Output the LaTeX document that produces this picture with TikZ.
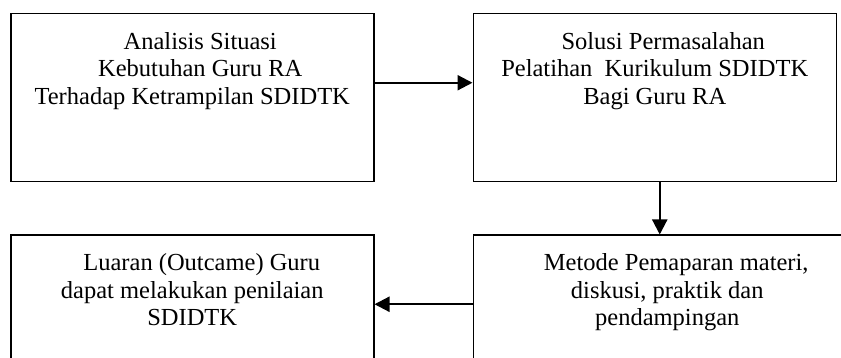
\documentclass[tikz,border=0pt]{standalone}
\usepackage{fontspec}
\setmainfont{Liberation Serif}
\usepackage{tikz}
\usetikzlibrary{arrows.meta,positioning}

\begin{document}
\begin{tikzpicture}[x=1pt,y=1pt,
        box/.style = {draw,line width=1.5pt,minimum width=363pt,minimum height=168pt,inner sep=0pt},
        wide/.style = {minimum width=388pt},
        txt/.style = {align=center,inner sep=0pt,font=\fontsize{24.5}{27.5}\selectfont},
        arr/.style = {line width=2.2pt,-{Triangle[length=15pt,width=15pt]}}]
        \clip (0,0) rectangle (841,358);
        \useasboundingbox (0,0) rectangle (841,358);

        % boxes
        \node[box,anchor=north west] (analisis) at (10,345) {};
        \node[box,right=98pt of analisis] (solusi) {};
        \node[box,wide,anchor=north west] (metode) at ([yshift=-52pt]solusi.south west) {};
        \node[box,below=52pt of analisis] (luaran) {};

        % texts
        \node[txt,below=19pt of analisis.north] (tanalisis) {\hspace*{16pt}Analisis Situasi\\ \hspace*{16pt}Kebutuhan Guru RA\\ Terhadap Ketrampilan SDIDTK};
        \node[txt,below=19pt of solusi.north] (tsolusi) {\hspace*{17pt}Solusi Permasalahan\\ Pelatihan\ \ Kurikulum SDIDTK\\ Bagi Guru RA};
        \node[txt,below=19pt of metode.north] (tmetode) {\hspace*{18pt}Metode Pemaparan materi,\\ diskusi, praktik dan\\ pendampingan};
        \node[txt,below=19pt of luaran.north] (tluaran) {\hspace*{19pt}Luaran (Outcame) Guru\\ dapat melakukan penilaian\\ SDIDTK};

        % arrows
        \draw[arr] ([yshift=15pt]analisis.east) -- ([yshift=15pt]solusi.west);
        \draw[arr] ([xshift=5pt]solusi.south) -- ([xshift=5pt]solusi.south |- metode.north);
        \draw[arr] ([yshift=15pt]metode.west) -- ([yshift=15pt]luaran.east);
\end{tikzpicture}
\end{document}
